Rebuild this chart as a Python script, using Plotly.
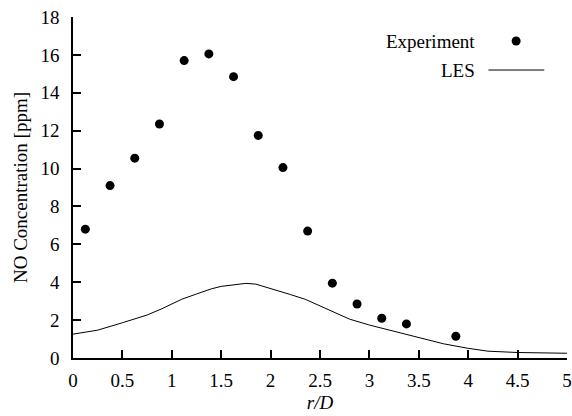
import plotly.graph_objects as go

# Experimental data (r/D, NO ppm)
exp_r = [0.125, 0.375, 0.625, 0.875, 1.125, 1.375, 1.625, 1.875, 2.125, 2.375,
         2.625, 2.875, 3.125, 3.375, 3.875]
exp_no = [6.8, 9.1, 10.55, 12.35, 15.7, 16.05, 14.85, 11.75, 10.05, 6.7,
          3.95, 2.85, 2.1, 1.8, 1.15]

# LES curve
les_r = [0.0, 0.25, 0.5, 0.75, 0.9, 1.0, 1.1, 1.25, 1.4, 1.5, 1.6, 1.75, 1.85,
         2.0, 2.2, 2.35, 2.5, 2.65, 2.8, 3.0, 3.2, 3.5, 3.75, 4.0, 4.2, 4.5,
         4.75, 5.0]
les_no = [1.26, 1.47, 1.86, 2.27, 2.6, 2.85, 3.1, 3.38, 3.65, 3.78, 3.85, 3.94,
          3.9, 3.68, 3.35, 3.1, 2.75, 2.38, 2.05, 1.74, 1.48, 1.05, 0.75, 0.51,
          0.36, 0.29, 0.27, 0.25]

x_ticks = [0, 0.5, 1, 1.5, 2, 2.5, 3, 3.5, 4, 4.5, 5]
x_ticklabels = ["0", "0.5", "1", "1.5", "2", "2.5", "3", "3.5", "4", "4.5", "5"]
y_ticks = [0, 2, 4, 6, 8, 10, 12, 14, 16, 18]

FONT = "Liberation Serif"
FS = 19
TF = dict(family=FONT, size=FS, color="black")

fig = go.Figure()
fig.add_trace(go.Scatter(x=les_r, y=les_no, mode="lines", name="LES",
                         line=dict(color="black", width=1), showlegend=False,
                         cliponaxis=False))
fig.add_trace(go.Scatter(x=exp_r, y=exp_no, mode="markers", name="Experiment",
                         marker=dict(color="black", size=9), showlegend=False))

# gnuplot-style key (text left, sample right)
fig.add_annotation(x=0.818, y=0.9296, xref="paper", yref="paper", text="Experiment",
                   showarrow=False, xanchor="right", yanchor="middle", font=TF)
fig.add_annotation(x=0.818, y=0.8445, xref="paper", yref="paper", text="LES",
                   showarrow=False, xanchor="right", yanchor="middle", font=TF)
fig.add_shape(type="circle", xref="paper", yref="paper", xsizemode="pixel",
              ysizemode="pixel", xanchor=0.897, yanchor=0.9296,
              x0=-4.5, x1=4.5, y0=-4.5, y1=4.5,
              fillcolor="black", line=dict(color="black", width=0))
fig.add_shape(type="line", xref="paper", yref="paper", x0=0.841, x1=0.954,
              y0=0.8445, y1=0.8445, line=dict(color="black", width=1))

fig.update_layout(
    width=572, height=416,
    margin=dict(l=73, r=5, t=17, b=58, autoexpand=False),
    paper_bgcolor="white", plot_bgcolor="white",
    font=TF,
    showlegend=False,
)
fig.update_xaxes(range=[0, 5], tickvals=x_ticks, ticktext=x_ticklabels,
                 showgrid=False, zeroline=False, showline=True, automargin=False,
                 linecolor="black", linewidth=1.5, ticks="inside", ticklen=8,
                 tickwidth=1.5, tickcolor="black", ticklabelstandoff=4,
                 tickfont=TF,
                 title=dict(text="<i>r/D</i>", font=TF, standoff=6))
fig.update_yaxes(range=[0, 18], tickvals=y_ticks, automargin=False,
                 showgrid=False, zeroline=False, showline=True,
                 linecolor="black", linewidth=1.5, ticks="inside", ticklen=8,
                 tickwidth=1.5, tickcolor="black", ticklabelstandoff=8,
                 tickfont=TF,
                 title=dict(text="NO Concentration [ppm]", font=TF, standoff=8))

fig.write_html("out.html",
               config={"displayModeBar": False},
               post_script="document.body.style.margin='0';"
                           "document.documentElement.style.margin='0';")
